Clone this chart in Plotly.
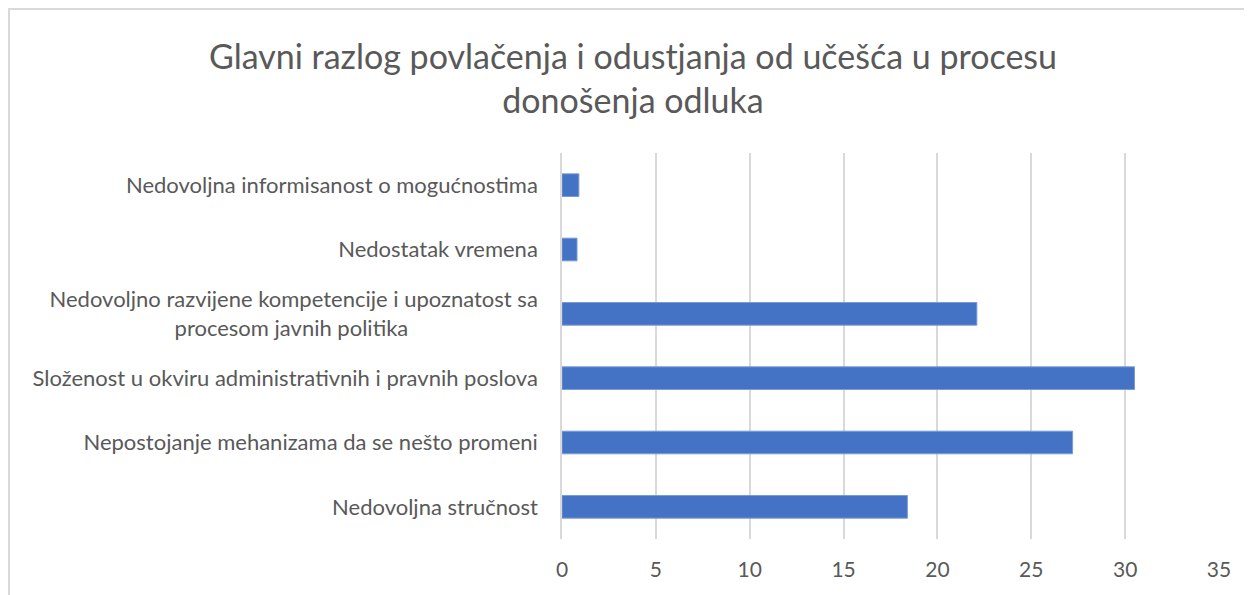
import plotly.graph_objects as go

categories = [
    "Nedovoljna informisanost o mogućnostima",
    "Nedostatak vremena",
    "Nedovoljno razvijene kompetencije i upoznatost sa<br>procesom javnih politika" + "\u00a0" * 23,
    "Složenost u okviru administrativnih i pravnih poslova",
    "Nepostojanje mehanizama da se nešto promeni",
    "Nedovoljna stručnost",
]
values = [0.9, 0.8, 22.1, 30.5, 27.2, 18.4]
x_ticks = [0, 5, 10, 15, 20, 25, 30, 35]
title_text = "Glavni razlog povlačenja i odustjanja od učešća u procesu<br>donošenja odluka"

# page body has an 8px margin, so the figure starts at (8, 8)
W, H = 1244, 587
L, R, T, B = 554, 33, 145, 56
pw, ph = W - L - R, H - T - B

def px_x(p):
    return (p - L) / pw

def px_y(p):
    return 1 - (p - T) / ph

fig = go.Figure(
    go.Bar(
        y=list(range(len(categories))),
        x=values,
        orientation="h",
        marker=dict(color="#4472C4", line=dict(color="#7b9bd6", width=1)),
        hoverinfo="x",
    )
)

font_family = "Lato, 'Open Sans', sans-serif"

fig.update_layout(
    width=W,
    height=H,
    margin=dict(l=L, r=R, t=T, b=B),
    paper_bgcolor="white",
    plot_bgcolor="white",
    bargap=0.648,
    showlegend=False,
    title=dict(
        text=title_text,
        x=625 / W,
        xref="container",
        xanchor="center",
        y=1 - 61 / H,
        yref="container",
        yanchor="middle",
        font=dict(family=font_family, size=34, color="#595959"),
    ),
    font=dict(family=font_family, color="#595959"),
    xaxis=dict(
        range=[0, 35],
        tickvals=x_ticks,
        ticktext=[str(v) for v in x_ticks],
        showgrid=True,
        gridcolor="#d9d9d9",
        gridwidth=1.5,
        zeroline=False,
        showline=False,
        ticks="outside",
        ticklen=12,
        tickcolor="rgba(0,0,0,0)",
        tickfont=dict(size=21, color="#595959", family=font_family),
        fixedrange=True,
    ),
    yaxis=dict(
        tickvals=list(range(len(categories))),
        ticktext=categories,
        autorange="reversed",
        showgrid=False,
        zeroline=False,
        showline=True,
        linecolor="#d9d9d9",
        linewidth=1.5,
        ticks="outside",
        ticklen=18,
        tickcolor="rgba(0,0,0,0)",
        tickfont=dict(size=22, color="#595959", family=font_family),
        fixedrange=True,
    ),
    shapes=[
        dict(
            type="rect",
            xref="paper",
            yref="paper",
            x0=px_x(1),
            x1=px_x(W + 20),
            y0=px_y(H + 20),
            y1=px_y(1),
            line=dict(color="#d9d9d9", width=2),
            fillcolor="rgba(0,0,0,0)",
            layer="below",
        )
    ],
)

fig.write_html("out.html")
